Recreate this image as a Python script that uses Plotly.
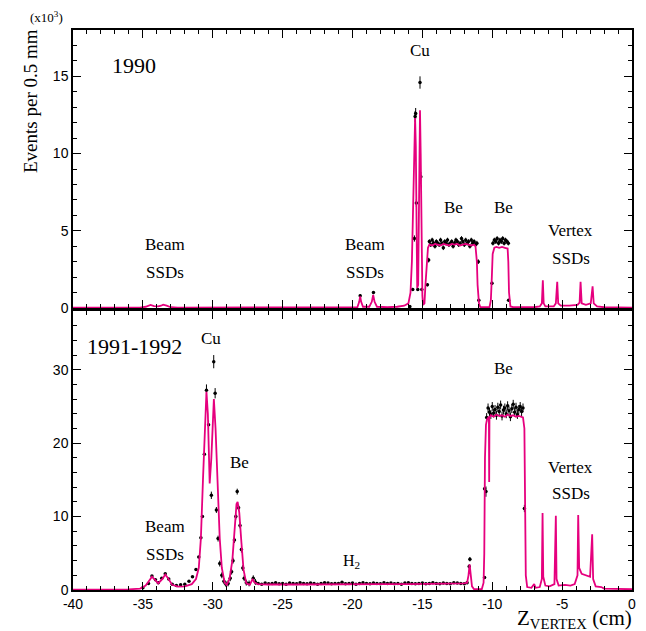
import plotly.graph_objects as go

# ---------------- DATA (units: 10^3 events per 0.5 mm, x in cm) ----------------
# 1990 : Monte Carlo curve (vertices)
mc90_x = [-40, -35.2, -34.8, -34.6, -34.45, -34.2, -33.9, -33.7, -33.55, -33.3, -33.0, -32.5,
          -20.0, -19.65, -19.52, -19.45, -19.38, -19.25, -18.8, -18.62, -18.52, -18.42, -18.25, -17.5,
          -16.8, -16.3, -16.0, -15.85, -15.75, -15.65, -15.57, -15.52, -15.47, -15.42, -15.37,
          -15.3, -15.25, -15.2, -15.17, -15.12, -15.05, -15.0, -14.95, -14.85, -14.78, -14.7, -14.6,
          -14.5, -14.3, -14.1, -13.9, -13.7, -13.5, -13.3, -13.1, -12.9, -12.7, -12.5, -12.3, -12.1,
          -11.9, -11.7, -11.5, -11.3, -11.2, -11.1, -11.05, -10.95, -10.85,
          -10.2, -10.1, -10.03, -9.97, -9.85, -9.7, -9.5, -9.3, -9.1, -8.9, -8.85, -8.8, -8.7, -8.5,
          -7.0, -6.6, -6.45, -6.38, -6.32, -6.2, -5.6, -5.45, -5.35, -5.28, -5.1, -4.5,
          -3.9, -3.75, -3.68, -3.6, -3.3, -2.95, -2.82, -2.74, -2.5, -2.0, 0]
mc90_y = [0.03, 0.03, 0.08, 0.15, 0.2, 0.12, 0.1, 0.15, 0.22, 0.15, 0.05, 0.03,
          0.03, 0.05, 0.4, 0.75, 0.4, 0.08, 0.08, 0.4, 0.85, 0.4, 0.08, 0.05,
          0.08, 0.15, 0.3, 1.0, 3.0, 8.0, 11.5, 12.3, 10.5, 4.0, 1.3,
          1.5, 6.0, 12.5, 12.8, 10.0, 4.0, 0.8, 0.2, 0.3, 1.5, 3.0, 3.9,
          4.1, 4.05, 4.15, 4.1, 4.05, 4.15, 4.1, 4.05, 4.15, 4.1, 4.15, 4.05, 4.1,
          4.15, 4.1, 4.05, 4.1, 4.0, 3.0, 1.5, 0.3, 0.05,
          0.05, 0.5, 2.0, 3.5, 3.9, 3.95, 3.9, 3.95, 3.9, 3.85, 3.0, 1.0, 0.1, 0.05,
          0.05, 0.1, 0.3, 1.8, 0.3, 0.1, 0.1, 0.3, 1.7, 0.3, 0.15, 0.15,
          0.2, 0.35, 1.7, 0.3, 0.2, 0.3, 1.4, 0.3, 0.1, 0.05, 0.03]

# 1990 : data points
d90_x = [-19.45, -18.5, -15.9, -15.69, -15.57, -15.52, -15.48, -15.43, -15.33, -15.17, -15.11, -15.04,
         -14.64, -14.55,
         -14.5, -14.4, -14.3, -14.2, -14.1, -14.0, -13.9, -13.8, -13.7, -13.6, -13.5, -13.4,
         -13.3, -13.2, -13.1, -13.0, -12.9, -12.8, -12.7, -12.6, -12.5, -12.4, -12.3, -12.2,
         -12.1, -12.0, -11.9, -11.8, -11.7, -11.6, -11.5, -11.4, -11.3, -11.2, -11.1,
         -11.0, -10.96, -10.02,
         -9.95, -9.85, -9.75, -9.65, -9.55, -9.45, -9.35, -9.25, -9.15, -9.05, -8.95, -8.85,
         -8.83]
d90_y = [0.8, 1.0, 0.1, 1.2, 4.5, 12.4, 12.6, 6.8, 1.2, 14.6, 8.5, 1.2,
         1.5, 3.1,
         4.3, 4.1, 4.4, 4.2, 4.0, 4.3, 4.2, 4.1, 4.4, 4.2, 3.9, 4.3,
         4.2, 4.4, 4.1, 4.2, 4.3, 4.0, 4.2, 4.4, 4.3, 4.1, 4.2, 4.5,
         4.3, 4.1, 4.4, 4.2, 4.3, 4.0, 4.4, 4.2, 4.3, 4.1, 4.2,
         3.0, 0.5, 1.6,
         4.2, 4.4, 4.3, 4.5, 4.2, 4.4, 4.3, 4.5, 4.2, 4.4, 4.3, 4.2,
         0.5]
d90_err = [0.1, 0.1, 0.03, 0.1, 0.2, 0.35, 0.35, 0.25, 0.1, 0.4, 0.3, 0.1,
           0.1, 0.15] + [0.15] * 35 + [0.15, 0.05, 0.1] + [0.15] * 12 + [0.05]

# 1991-1992 : Monte Carlo curve (vertices)
mc91_x = [-40, -36, -35.2, -34.8, -34.5, -34.35, -34.2, -33.9, -33.6, -33.4, -33.2, -32.9, -32.5,
          -32.0, -31.5, -31.2, -31.0, -30.85, -30.7, -30.55, -30.45, -30.35, -30.22, -30.1, -29.98,
          -29.92, -29.8, -29.65, -29.5, -29.35, -29.15, -29.0, -28.8, -28.6, -28.45, -28.3, -28.22,
          -28.1, -27.95, -27.8, -27.6, -27.35, -27.15, -27.0, -26.8, -26.0, -24.0, -22.0, -20.0,
          -18.0, -16.0, -14.0, -12.5, -12.0, -11.8, -11.7, -11.62, -11.55, -11.45, -11.3, -10.75,
          -10.62, -10.57, -10.52, -10.45, -10.38, -10.3, -10.24, -10.22, -10.2, -10.1,
          -9.9, -9.7, -9.5, -9.3, -9.1, -8.9, -8.7, -8.5, -8.3, -8.1, -7.9, -7.8, -7.7, -7.65,
          -7.6, -7.5, -7.2, -7.0, -6.9, -6.6, -6.45, -6.4, -6.35, -6.2, -5.9, -5.55, -5.45, -5.4,
          -5.25, -4.8, -4.4, -4.1, -3.9, -3.85, -3.78, -3.6, -3.3, -3.0, -2.85, -2.78, -2.6, -2.2,
          -2.0, -1.5, 0]
mc91_y = [0.05, 0.08, 0.2, 0.6, 1.4, 1.8, 1.5, 0.9, 1.5, 2.1, 1.6, 0.7, 0.45,
          0.5, 0.8, 1.5, 3.0, 7.0, 15.0, 24.0, 27.0, 24.0, 14.5, 18.0, 25.5,
          26.0, 22.0, 14.0, 7.0, 3.0, 1.0, 0.7, 1.5, 4.0, 8.5, 11.7, 12.0,
          10.5, 6.5, 2.8, 0.9, 0.7, 1.5, 1.0, 0.8, 0.75, 0.75, 0.8, 0.85,
          0.8, 0.8, 0.8, 0.85, 0.9, 1.0, 2.0, 3.5, 2.5, 0.5, 0.1, 0.1,
          1.0, 5.0, 18.0, 22.5, 23.2, 23.5, 23.6, 14.7, 23.5, 23.8,
          23.6, 23.9, 23.7, 23.8, 23.6, 23.9, 23.7, 23.8, 23.6, 23.7, 23.5, 23.5, 22.0, 10.0,
          2.0, 0.4, 0.3, 0.8, 0.3, 0.4, 1.5, 10.5, 1.8, 0.6, 0.5, 0.8, 10.1, 1.5,
          0.6, 0.7, 0.6, 0.8, 2.0, 10.2, 3.0, 2.2, 2.0, 1.8, 7.6, 1.5, 0.5, 0.4,
          0.2, 0.15, 0.1]

# 1991-1992 : data points
d91_x = [-35.0, -34.6, -34.35, -34.1, -33.9, -33.65, -33.4, -33.15, -32.9, -32.6, -32.3, -32.0,
         -31.7, -31.45, -31.2, -31.0, -30.85, -30.74, -30.6, -30.45, -30.3, -30.1, -29.93, -29.83,
         -29.74, -29.62, -29.5, -29.35, -29.2, -29.05, -28.9, -28.75, -28.65, -28.55, -28.45, -28.35,
         -28.25, -28.15, -28.05, -27.95, -27.85, -27.75, -27.6, -27.4, -27.1, -26.95,
         -26.75, -26.5, -26.25, -26.0, -25.75, -25.5, -25.25, -25.0, -24.75, -24.5, -24.25, -24.0,
         -23.75, -23.5, -23.25, -23.0, -22.75, -22.5, -22.25, -22.0, -21.75, -21.5, -21.25, -21.0,
         -20.75, -20.5, -20.25, -20.0, -19.75, -19.5, -19.25, -19.0, -18.75, -18.5, -18.25, -18.0,
         -17.75, -17.5, -17.25, -17.0, -16.75, -16.5, -16.25, -16.0, -15.75, -15.5, -15.25, -15.0,
         -14.75, -14.5, -14.25, -14.0, -13.75, -13.5, -13.25, -13.0, -12.75, -12.5, -12.25, -12.0,
         -11.8, -11.65, -11.6, -10.55, -10.55, -10.45,
         -10.4, -10.3, -10.2, -10.1, -10.0, -9.9, -9.8, -9.7, -9.6, -9.5, -9.4, -9.3, -9.2, -9.1,
         -9.0, -8.9, -8.8, -8.7, -8.6, -8.5, -8.4, -8.3, -8.2, -8.1, -8.0, -7.9, -7.8,
         -7.7]
d91_y = [0.3, 0.9, 1.9, 1.4, 1.0, 1.6, 2.2, 1.5, 0.8, 0.6, 0.7, 0.8,
         1.2, 1.8, 2.8, 4.5, 7.1, 10.0, 18.5, 27.2, 22.5, 12.9, 31.1, 26.8,
         10.9, 7.0, 3.6, 2.0, 1.2, 0.8, 0.9, 1.6, 2.5, 4.0, 6.8, 10.0,
         13.4, 11.2, 8.8, 5.5, 3.0, 1.6, 1.0, 0.9, 1.6, 1.1,
         0.9, 0.8, 0.95, 0.85, 0.9, 1.0, 0.85, 0.9, 0.8, 0.95, 0.9, 0.85,
         1.0, 0.9, 0.85, 0.95, 0.9, 0.8, 0.9, 1.0, 0.95, 0.85, 0.9, 0.9,
         1.05, 0.85, 0.9, 0.95, 0.8, 0.9, 1.0, 0.9, 0.85, 0.95, 0.9, 0.85,
         1.0, 0.9, 0.95, 0.85, 0.9, 0.8, 0.95, 1.0, 0.9, 0.85, 0.9, 0.95,
         0.85, 0.9, 1.0, 0.9, 0.85, 0.95, 0.9, 0.85, 1.0, 0.95, 0.9, 0.85,
         1.0, 3.2, 4.2, 13.8, 1.7, 13.4,
         23.5, 24.8, 24.2, 23.9, 25.0, 24.1, 24.6, 23.8, 24.9, 24.3, 25.2, 23.7, 24.5, 24.8,
         24.0, 25.1, 24.4, 23.6, 24.7, 25.3, 24.2, 24.9, 23.9, 24.6, 25.0, 24.3, 24.8,
         11.1]
d91_err = ([0.1] * 19 + [0.8, 0.6, 0.5, 0.9, 0.7] + [0.4] * 22 + [0.12] * 60 +
           [0.2, 0.3, 0.3, 0.5, 0.2, 0.7] + [0.6] * 27 + [0.5])

xticks = [-40, -35, -30, -25, -20, -15, -10, -5, 0]
xtick_text = ["-40", "-35", "-30", "-25", "-20", "-15", "-10", "-5", "0"]

# ---------------- FIGURE ----------------
MAG = "#E6007E"
SERIF = "Liberation Serif, Times New Roman, serif"
SANS = "Liberation Sans, Arial, sans-serif"

fig = go.Figure()

fig.add_trace(go.Scatter(x=d90_x, y=d90_y, mode="markers", xaxis="x", yaxis="y",
                         marker=dict(color="black", size=3.5),
                         error_y=dict(type="data", array=d90_err, color="black", thickness=1, width=0),
                         showlegend=False))
fig.add_trace(go.Scatter(x=mc90_x, y=mc90_y, mode="lines", xaxis="x", yaxis="y",
                         line=dict(color=MAG, width=1.8), showlegend=False))
fig.add_trace(go.Scatter(x=d91_x, y=d91_y, mode="markers", xaxis="x2", yaxis="y2",
                         marker=dict(color="black", size=3.5),
                         error_y=dict(type="data", array=d91_err, color="black", thickness=1, width=0),
                         showlegend=False))
fig.add_trace(go.Scatter(x=mc91_x, y=mc91_y, mode="lines", xaxis="x2", yaxis="y2",
                         line=dict(color=MAG, width=1.8), showlegend=False))

xdom = [73 / 646, 632 / 646]
common_x = dict(range=[-40, 0], domain=xdom, showline=True, linecolor="black", linewidth=1.5,
                mirror="allticks", ticks="inside", ticklen=8, tickwidth=1, tickcolor="black",
                tickvals=xticks, ticktext=xtick_text, showgrid=False, zeroline=False,
                minor=dict(ticks="inside", dtick=1, ticklen=4, tickcolor="black", showgrid=False),
                tickfont=dict(family=SANS, size=14, color="black"), automargin=False)
yfont = dict(family=SANS, size=14, color="black")
fig.update_layout(
    width=646, height=631, margin=dict(l=0, r=0, t=0, b=0, pad=0), autosize=False,
    paper_bgcolor="white", plot_bgcolor="white",
    xaxis=dict(**common_x, anchor="y", showticklabels=False),
    xaxis2=dict(**common_x, anchor="y2", showticklabels=True, matches="x"),
    yaxis=dict(range=[0, 18], domain=[1 - 308 / 631, 1 - 30 / 631], anchor="x",
               showline=True, linecolor="black", linewidth=1.5, mirror="allticks",
               ticks="inside", ticklen=8, tickcolor="black", tickvals=[0, 5, 10, 15],
               ticktext=["0", "5", "10", "15"], showgrid=False, zeroline=False,
               minor=dict(ticks="inside", dtick=1, ticklen=4, tickcolor="black", showgrid=False),
               tickfont=yfont, automargin=False),
    yaxis2=dict(range=[0, 38], domain=[1 - 590 / 631, 1 - 311 / 631], anchor="x2",
                showline=True, linecolor="black", linewidth=1.5, mirror="allticks",
                ticks="inside", ticklen=8, tickcolor="black", tickvals=[0, 10, 20, 30],
                ticktext=["0", "10", "20", "30"], showgrid=False, zeroline=False,
                minor=dict(ticks="inside", dtick=2, ticklen=4, tickcolor="black", showgrid=False),
                tickfont=yfont, automargin=False),
)

def lab(text, x, y, ax="x", size=17):
    fig.add_annotation(text=text, x=x, y=y, xref=ax, yref="y" if ax == "x" else "y2",
                       xanchor="center", yanchor="middle",
                       showarrow=False, font=dict(family=SERIF, size=size, color="black"))

# top panel labels
lab("1990", -35.6, 15.7, "x", 22)
lab("Cu", -15.2, 16.7)
lab("Be", -12.8, 6.5)
lab("Be", -9.2, 6.5)
lab("Vertex", -4.4, 5.0)
lab("SSDs", -4.4, 3.2)
lab("Beam", -33.4, 4.1)
lab("SSDs", -33.4, 2.3)
lab("Beam", -19.1, 4.1)
lab("SSDs", -19.1, 2.3)
# bottom panel labels
lab("1991-1992", -35.6, 33.1, "x2", 22)
lab("Cu", -30.1, 34.3, "x2")
lab("Be", -28.1, 17.4, "x2")
lab("Be", -9.2, 30.2, "x2")
lab("Vertex", -4.4, 16.7, "x2")
lab("SSDs", -4.4, 13.1, "x2")
lab("Beam", -33.4, 8.6, "x2")
lab("SSDs", -33.4, 4.9, "x2")
lab("H<sub>2</sub>", -20.1, 3.9, "x2", 16)

fig.add_annotation(text="(x10<sup>3</sup>)", x=47 / 646, y=1 - 17 / 631, xref="paper", yref="paper",
                   xanchor="center", yanchor="middle",
                   showarrow=False, font=dict(family=SERIF, size=13, color="black"))
fig.add_annotation(text="Events per 0.5 mm", x=30 / 646, y=1 - 101 / 631, xref="paper", yref="paper",
                   xanchor="center", yanchor="middle",
                   textangle=-90, showarrow=False, font=dict(family=SERIF, size=19, color="black"))
fig.add_annotation(text="Z<sub>VERTEX</sub> (cm)", x=634 / 646, y=1 - 619 / 631, xref="paper", yref="paper",
                   xanchor="right", yanchor="middle", showarrow=False,
                   font=dict(family=SERIF, size=21, color="black"))

fig.write_html("out.html",
               post_script="document.body.style.margin='0';document.body.style.overflow='hidden';")
